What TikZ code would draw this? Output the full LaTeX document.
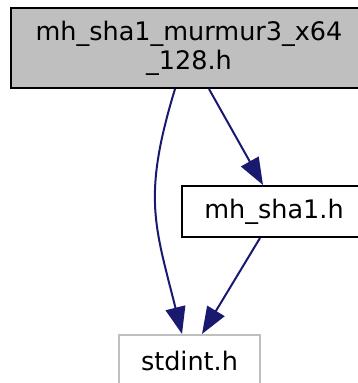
\documentclass[tikz,border=0pt]{standalone}
\usepackage{fontspec}
\setmainfont{DejaVu Sans}
\usetikzlibrary{arrows.meta}
\definecolor{edgeblue}{HTML}{191970}
\definecolor{nodegray}{HTML}{BFBFBF}
\tikzset{
  filebox/.style={draw=black, line width=2pt, inner sep=0pt, align=center,
    font=\fontsize{25.5}{29}\selectfont},
  depedge/.style={draw=edgeblue, line width=2pt,
    -{Triangle[length=27pt,width=20pt]}}
}
\begin{document}
\begin{tikzpicture}[x=1pt,y=-1pt]
  \useasboundingbox (0,0) rectangle (358,383);
  \clip (0,0) rectangle (358,383);
  % header being documented
  \node[filebox, fill=nodegray, minimum width=356pt, minimum height=80pt]
    (top) at (189,48) {mh\_sha1\_murmur3\_x64\\\_128.h};
  % included headers
  \node[filebox, minimum width=184pt, minimum height=51pt]
    (sha) at (274,211.5) {mh\_sha1.h};
  \node[filebox, draw=nodegray, minimum width=141pt, minimum height=51pt]
    (std) at (189.5,360.5) {stdint.h};
  % include dependencies
  \draw[depedge] ([xshift=-14pt]top.south)
    .. controls (142,197) and (155,226) .. ([xshift=-7.5pt]std.north);
  \draw[depedge] ([xshift=20pt]top.south) -- ([xshift=-11pt]sha.north);
  \draw[depedge] ([xshift=-14pt]sha.south) -- ([xshift=12.5pt]std.north);
\end{tikzpicture}
\end{document}
